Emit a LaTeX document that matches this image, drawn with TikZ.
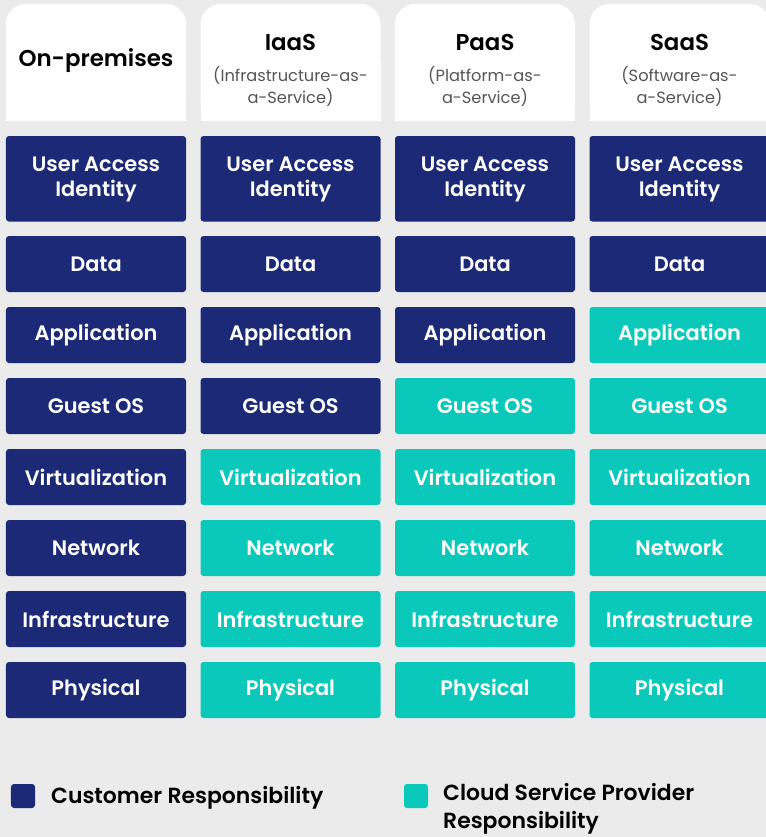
\documentclass[tikz,border=0pt]{standalone}
\usepackage{fontspec}
\setmainfont{Poppins}[BoldFont={Poppins SemiBold}]
\definecolor{navy}{HTML}{1B2977}
\definecolor{tealc}{HTML}{0AC9BA}
\definecolor{bgc}{HTML}{EBEBEB}
\definecolor{subgray}{HTML}{555555}
\tikzset{
  cell/.style={rectangle, rounded corners=3bp, minimum width=180bp, minimum height=56bp, inner sep=0pt, text=white, align=center, font=\bfseries\fontsize{21}{25}\selectfont},
  ttl/.style={inner sep=0pt, text=black, font=\bfseries\fontsize{23}{28}\selectfont},
  sub/.style={inner sep=0pt, text=subgray, align=center, font=\fontsize{16.3}{22}\selectfont},
  key/.style={rectangle, rounded corners=3bp, minimum width=24bp, minimum height=24bp, inner sep=0pt},
  keytext/.style={inner sep=0pt, text=black, align=left, font=\bfseries\fontsize{22}{28}\selectfont}
}
\begin{document}
\begin{tikzpicture}[x=1bp,y=-1bp]
\fill[bgc] (0,0) rectangle (766,837);
\useasboundingbox (0,0) rectangle (766,837);
% header panels
\foreach \c in {0,1,2,3} {
  \pgfmathsetmacro\xl{6+194.5*\c}
  \fill[white, rounded corners=20bp] (\xl,4) rectangle (\xl+180,121);
  \fill[white] (\xl,60) rectangle (\xl+180,121);
}
\node[ttl] (h0) at (96,61) {On-premises};
\node[ttl] (h1) at (290.5,42) {IaaS};
\node[sub] (s1) at (290.5,86.5) {(Infrastructure-as-\\a-Service)};
\node[ttl] (h2) at (485,42) {PaaS};
\node[sub] (s2) at (485,86.5) {(Platform-as-\\a-Service)};
\node[ttl] (h3) at (679.5,42) {SaaS};
\node[sub] (s3) at (679.5,86.5) {(Software-as-\\a-Service)};
% cells
\foreach \c/\n in {0/8,1/4,2/3,3/2} {
  \pgfmathsetmacro\xc{96+194.5*\c}
  \node[cell, fill=navy, minimum height=85.5bp] (c\c-0) at (\xc,178.75) {};
  \node[inner sep=0pt, text=white, align=center, font=\bfseries\fontsize{21}{25}\selectfont] (t\c-0) at (\xc,179.75) {User Access\\Identity};
  \foreach \r/\t in {1/Data,2/Application,3/Guest OS,4/Virtualization,5/Network,6/Infrastructure,7/Physical} {
    \pgfmathsetmacro\yc{264+71*(\r-1)}
    \pgfmathparse{\r<\n ? "navy" : "tealc"}
    \edef\fc{\pgfmathresult}
    \node[cell, fill=\fc] (c\c-\r) at (\xc,\yc) {\t};
  }
}
% legend
\node[key, fill=navy] (k1) at (23,796) {};
\node[keytext, anchor=west] (l1) at (51,798) {Customer Responsibility};
\node[key, fill=tealc] (k2) at (416,796) {};
\node[keytext, anchor=west] (l2) at (443,809) {Cloud Service Provider\\Responsibility};
\end{tikzpicture}
\end{document}
